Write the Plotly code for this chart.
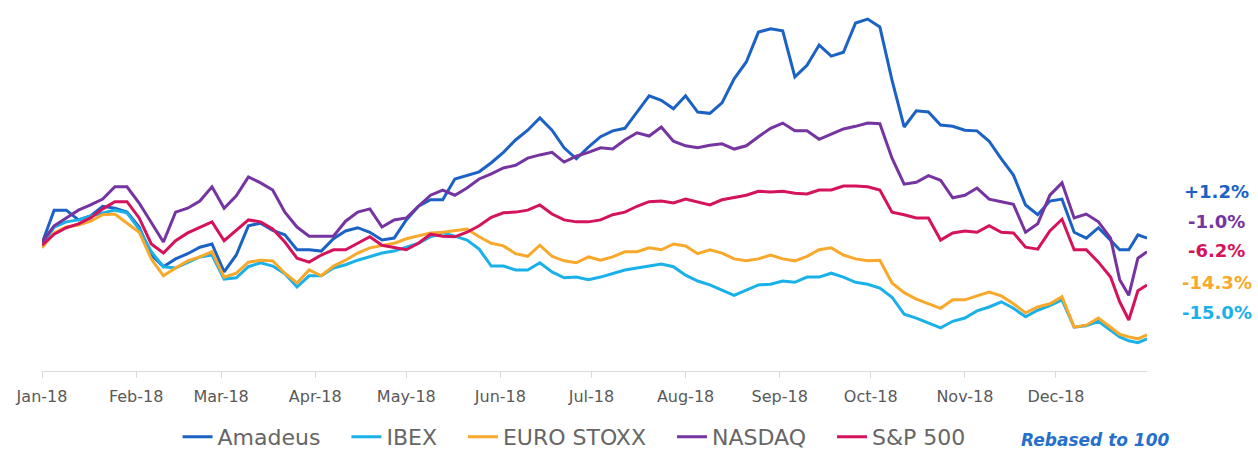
import pandas as pd
import plotly.graph_objects as go

# ---- data (rebased to 100) ----
dates = list(pd.date_range("2018-01-01", "2018-12-19", freq="4D").strftime("%Y-%m-%d")) + [
    "2018-12-22", "2018-12-25", "2018-12-28", "2018-12-31"]

amadeus = [99.8, 104.9, 104.9, 103.4, 104.0, 105.5, 105.2, 104.6, 102.3, 98.0,
           96.2, 97.4, 98.2, 99.2, 99.7, 95.4, 98.0, 102.5, 102.9, 101.8,
           101.1, 98.8, 98.8, 98.6, 100.5, 101.7, 102.2, 101.5, 100.3, 100.6,
           103.4, 105.5, 106.5, 106.5, 109.7, 110.2, 110.8, 112.2, 113.8, 115.7,
           117.2, 119.1, 117.2, 114.5, 112.8, 114.6, 116.2, 117.1, 117.5, 120.0,
           122.5, 121.8, 120.5, 122.5, 120.0, 119.8, 121.4, 125.1, 127.7, 132.3,
           132.8, 132.5, 125.4, 127.2, 130.3, 128.6, 129.2, 133.7, 134.3, 133.1,
           124.9, 117.7, 120.2, 120.0, 118.0, 117.8, 117.2, 117.1, 115.5, 112.8,
           110.3, 105.7, 104.2, 106.3, 106.6, 101.5, 100.6, 102.2, 100.3,
           98.8, 98.8, 101.1, 100.6]

ibex = [99.5, 102.3, 103.1, 103.4, 104.0, 104.5, 104.9, 104.5, 102.0, 98.5,
        96.2, 96.0, 96.8, 97.7, 98.0, 94.3, 94.5, 96.2, 96.8, 96.3,
        95.1, 93.1, 94.8, 94.8, 96.0, 96.5, 97.2, 97.8, 98.3, 98.6,
        99.2, 99.8, 100.8, 101.4, 100.9, 100.3, 98.9, 96.3, 96.3, 95.7,
        95.7, 96.8, 95.4, 94.5, 94.6, 94.2, 94.6, 95.2, 95.7, 96.0,
        96.3, 96.6, 96.2, 94.9, 94.0, 93.4, 92.6, 91.8, 92.6, 93.4,
        93.5, 94.0, 93.8, 94.6, 94.6, 95.2, 94.6, 93.8, 93.5, 92.9,
        91.5, 88.9, 88.3, 87.5, 86.8, 87.8, 88.3, 89.4, 90.0, 90.8,
        89.8, 88.5, 89.5, 90.2, 91.1, 86.9, 87.1, 87.8, 86.5,
        85.4, 84.8, 84.5, 85.1]

eurostoxx = [99.1, 101.4, 102.3, 102.6, 103.2, 104.2, 104.3, 102.9, 101.5, 97.4,
             94.8, 96.0, 97.1, 97.7, 98.5, 94.6, 95.2, 96.9, 97.2, 97.1,
             95.2, 93.7, 95.7, 94.8, 96.3, 97.2, 98.3, 99.1, 99.5, 99.8,
             100.5, 100.9, 101.4, 101.5, 101.7, 102.0, 100.8, 99.8, 99.4, 98.2,
             97.8, 99.5, 97.8, 97.1, 96.8, 97.7, 97.2, 97.7, 98.5, 98.5,
             99.1, 98.8, 99.7, 99.4, 98.2, 98.8, 98.3, 97.4, 97.1, 97.4,
             98.0, 97.4, 97.1, 97.8, 98.8, 99.1, 98.0, 97.4, 97.1, 97.2,
             93.7, 92.2, 91.2, 90.5, 89.8, 91.1, 91.1, 91.7, 92.3, 91.7,
             90.5, 89.1, 90.0, 90.5, 91.6, 86.9, 87.2, 88.3, 86.8,
             85.8, 85.4, 85.1, 85.7]

nasdaq = [100.0, 102.5, 103.7, 104.9, 105.7, 106.6, 108.5, 108.5, 106.0, 102.9,
          100.0, 104.6, 105.2, 106.3, 108.5, 105.2, 107.1, 110.0, 109.1, 108.0,
          104.6, 102.3, 100.9, 100.9, 100.9, 103.2, 104.6, 105.1, 102.3, 103.4,
          103.7, 105.5, 107.2, 108.0, 107.2, 108.3, 109.7, 110.5, 111.4, 111.8,
          112.9, 113.4, 113.8, 112.3, 113.2, 113.8, 114.5, 114.3, 115.7, 116.8,
          116.3, 117.7, 115.5, 114.8, 114.5, 114.9, 115.1, 114.3, 114.8, 116.2,
          117.5, 118.3, 117.1, 117.1, 115.8, 116.6, 117.4, 117.8, 118.3, 118.2,
          112.9, 108.9, 109.2, 110.2, 109.5, 106.8, 107.2, 108.3, 106.6, 106.2,
          105.8, 101.5, 102.8, 107.2, 109.1, 103.7, 104.3, 103.1, 100.6,
          94.2, 91.8, 97.5, 98.5]

sp500 = [99.5, 101.2, 102.2, 102.8, 103.7, 105.1, 106.2, 106.2, 103.7, 99.7,
         98.3, 100.2, 101.4, 102.2, 103.1, 100.2, 101.8, 103.4, 103.1, 102.0,
         100.0, 97.5, 96.9, 98.0, 98.8, 98.8, 99.8, 100.8, 99.5, 99.2,
         98.8, 99.8, 101.2, 100.9, 100.8, 101.5, 102.5, 103.8, 104.5, 104.6,
         104.9, 105.7, 104.3, 103.4, 103.1, 103.1, 103.4, 104.2, 104.6, 105.5,
         106.2, 106.3, 106.0, 106.6, 106.2, 105.7, 106.5, 106.8, 107.2, 107.8,
         107.7, 107.8, 107.5, 107.4, 108.0, 108.0, 108.6, 108.6, 108.5, 108.0,
         104.6, 104.2, 103.7, 103.7, 100.3, 101.4, 101.7, 101.5, 102.5, 101.5,
         101.4, 99.2, 98.9, 101.7, 103.5, 98.8, 98.8, 96.9, 94.6,
         90.8, 88.0, 92.5, 93.4]

series_names = ["Amadeus", "IBEX", "EURO STOXX", "NASDAQ", "S&P 500"]
series_values = [amadeus, ibex, eurostoxx, nasdaq, sp500]
series_colors = ["#1B62C4", "#1AB0E8", "#F8A82A", "#7634A0", "#D5135C"]

end_labels = ["+1.2%", "-1.0%", "-6.2%", "-14.3%", "-15.0%"]
end_label_colors = ["#1B62C4", "#7634A0", "#D5135C", "#F8A82A", "#1AB0E8"]
end_label_y = [0.496, 0.413, 0.335, 0.244, 0.161]

month_ticks = list(pd.date_range("2018-01-01", "2018-12-01", freq="MS").strftime("%Y-%m-%d"))
month_labels = ["Jan-18", "Feb-18", "Mar-18", "Apr-18", "May-18", "Jun-18",
                "Jul-18", "Aug-18", "Sep-18", "Oct-18", "Nov-18", "Dec-18"]

FONT = "DejaVu Sans"
PAD = "\u00a0\u00a0\u00a0"  # extra spacing between legend entries

fig = go.Figure()
for name, vals, col in zip(series_names, series_values, series_colors):
    fig.add_trace(go.Scatter(x=dates, y=vals, name=name + PAD, mode="lines",
                             line=dict(color=col, width=3)))

annotations = []
for txt, col, yy in zip(end_labels, end_label_colors, end_label_y):
    annotations.append(dict(text="<b>" + txt + "</b>", x=1.0633, y=yy, xref="paper", yref="paper",
                            showarrow=False, xanchor="center", yanchor="middle",
                            font=dict(family=FONT, size=18, color=col)))
annotations.append(dict(text="<b><i>Rebased to 100</i></b>", x=0.953, y=-0.19, xref="paper", yref="paper",
                        showarrow=False, xanchor="center", yanchor="middle",
                        font=dict(family=FONT, size=17, color="#2670CC")))

fig.update_layout(
    width=1258, height=450,
    margin=dict(l=42, r=111, t=10, b=79, autoexpand=False),
    paper_bgcolor="white", plot_bgcolor="white",
    showlegend=True,
    legend=dict(orientation="h", x=0.491, xanchor="center", y=-0.183, yanchor="middle",
                font=dict(family=FONT, size=22, color="#666666"),
                itemwidth=30, tracegroupgap=0, bgcolor="rgba(0,0,0,0)"),
    annotations=annotations,
    xaxis=dict(type="date", range=["2018-01-01", "2018-12-31"],
               tickvals=month_ticks, ticktext=month_labels,
               ticks="outside", ticklen=6, tickcolor="#d9d9d9",
               showline=True, linecolor="#d9d9d9", linewidth=1,
               showgrid=False, zeroline=False, ticklabelstandoff=5,
               tickfont=dict(family=FONT, size=16, color="#595959")),
    yaxis=dict(range=[80.15, 135.7], showticklabels=False, showgrid=False,
               zeroline=False, showline=False, ticks=""),
)

fig.write_html("out.html", config={"displayModeBar": False},
               post_script="document.body.style.margin='0';document.body.style.overflow='hidden';")
